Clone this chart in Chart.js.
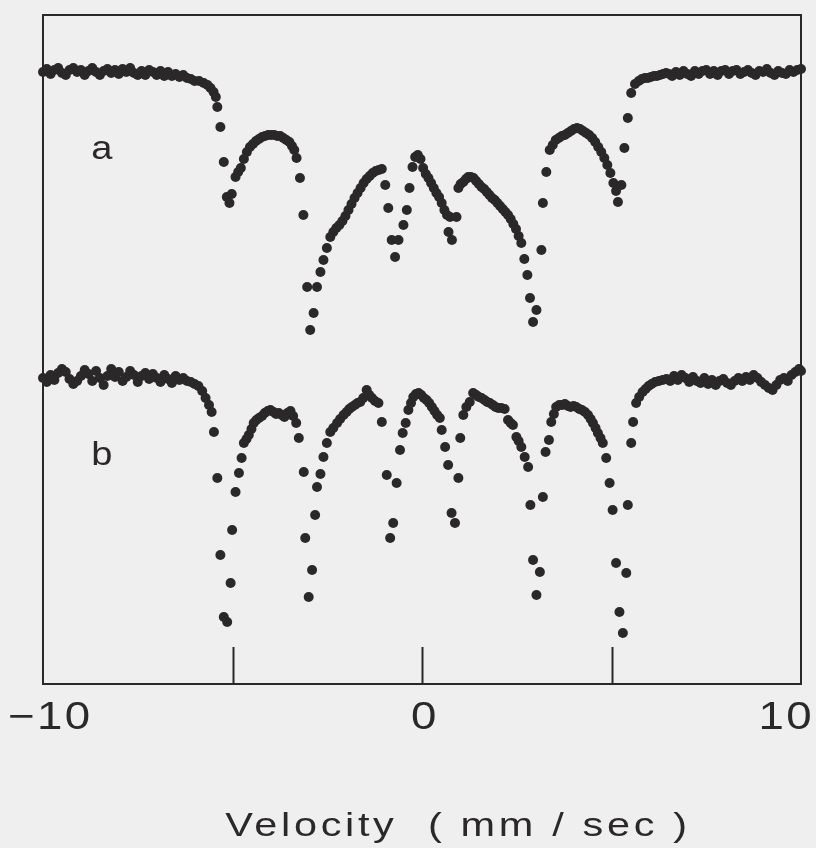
<!DOCTYPE html>
<html>
<head>
<meta charset="utf-8">
<script src="https://cdn.jsdelivr.net/npm/chart.js@4.4.1/dist/chart.umd.min.js"></script>
<style>
    html, body { margin: 0; padding: 0; background: #efefef; }
    #contenedor { width: 816px; height: 848px; position: relative; }
</style>
</head>
<body>
<div id="contenedor"><canvas id="grafico-mossbauer"></canvas></div>
<script>
// Spectrum a: [velocity mm/s, counts (arb.)]
const spectrumA = [
    [-10.0,61.2],[-9.9,61.5],[-9.8,61.0],[-9.7,61.4],[-9.6,61.6],[-9.5,61.1],[-9.4,60.9],[-9.3,61.4],[-9.2,61.6],[-9.1,61.2],
    [-9.0,61.4],[-8.9,60.9],[-8.8,61.3],[-8.7,61.6],[-8.6,61.2],[-8.5,60.9],[-8.4,61.3],[-8.3,61.5],[-8.2,61.1],[-8.1,61.4],
    [-8.0,61.0],[-7.9,61.5],[-7.8,61.2],[-7.7,61.6],[-7.6,61.1],[-7.5,60.9],[-7.4,61.3],[-7.3,60.9],[-7.2,61.4],[-7.1,61.2],
    [-7.0,60.9],[-6.9,61.3],[-6.8,60.8],[-6.7,61.2],[-6.6,60.8],[-6.5,61.0],[-6.4,60.7],[-6.3,60.9],[-6.2,60.6],[-6.1,60.5],
    [-6.0,60.3],[-5.88,60.3],[-5.76,60.1],[-5.66,59.9],[-5.58,59.6],[-5.5,59.2],[-5.44,58.7],[-5.4,57.7],[-5.32,55.7],[-5.23,52.2],
    [-5.15,48.7],[-5.08,48.1],[-5.02,49.0],
    [-4.92,50.7],[-4.85,51.2],[-4.78,51.6],[-4.70,52.5],[-4.62,53.2],[-4.54,53.7],[-4.46,54.0],[-4.38,54.3],[-4.30,54.5],[-4.22,54.7],
    [-4.14,54.8],[-4.06,54.9],[-3.98,54.9],[-3.90,54.9],[-3.82,54.8],[-3.74,54.8],[-3.66,54.6],[-3.58,54.4],[-3.50,54.2],[-3.43,53.8],
    [-3.37,53.4],[-3.31,52.6],[-3.22,50.6],[-3.13,46.9],
    [-3.03,39.7],[-2.95,35.4],[-2.86,37.1],[-2.77,39.7],[-2.68,41.2],[-2.60,42.4],[-2.51,43.6],
    [-2.42,44.7],[-2.34,45.2],[-2.26,45.6],[-2.18,45.9],[-2.10,46.3],[-2.02,46.8],[-1.94,47.4],[-1.86,48.0],[-1.78,48.6],[-1.70,49.1],
    [-1.62,49.6],[-1.54,50.1],[-1.46,50.5],[-1.38,50.8],[-1.30,51.1],[-1.22,51.3],[-1.14,51.4],[-1.06,51.5],
    [-0.97,49.9],[-0.89,47.6],[-0.80,44.4],[-0.71,42.7],[-0.62,44.4],[-0.49,45.9],[-0.40,47.4],[-0.33,49.6],[-0.25,51.7],
    [-0.18,52.7],[-0.11,52.9],[-0.04,52.5],[0.03,51.6],[0.10,51.0],[0.17,50.6],[0.24,50.1],[0.31,49.6],[0.38,49.1],[0.45,48.7],
    [0.52,48.1],[0.59,47.4],[0.66,46.9],
    [0.70,45.2],[0.74,46.7],[0.79,44.4],[0.91,46.7],[0.96,49.6],[1.02,50.0],
    [1.09,50.2],[1.16,50.5],[1.22,50.7],[1.29,50.7],[1.36,50.6],[1.43,50.3],[1.50,50.0],[1.57,49.7],[1.64,49.5],[1.71,49.2],
    [1.78,48.9],[1.85,48.6],[1.92,48.4],[1.99,48.1],[2.06,47.8],[2.13,47.5],[2.20,47.2],[2.27,46.9],[2.34,46.5],[2.41,46.0],
    [2.48,45.5],[2.55,44.8],[2.62,44.1],[2.70,42.5],[2.78,40.9],[2.85,38.6],
    [2.93,36.2],[3.02,37.4],[3.15,43.4],[3.19,48.1],[3.28,51.2],
    [3.37,53.4],[3.45,53.9],[3.53,54.4],[3.61,54.6],[3.69,54.8],[3.77,54.9],[3.85,55.1],[3.93,55.3],[4.01,55.5],[4.09,55.6],
    [4.17,55.5],[4.25,55.3],[4.33,55.1],[4.41,54.9],[4.49,54.6],[4.57,54.2],[4.65,53.7],[4.73,53.2],[4.81,52.6],[4.89,51.9],
    [4.97,51.1],[5.05,50.1],[5.12,49.3],[5.17,48.2],[5.26,49.9],
    [5.34,53.6],[5.43,56.6],[5.52,59.1],[5.62,60.0],
    [5.72,60.3],[5.80,60.5],[5.88,60.6],[5.96,60.6],[6.04,60.7],[6.12,60.8],[6.20,60.8],[6.28,60.9],[6.36,61.0],[6.44,61.1],[6.52,61.0],
    [6.6,60.8],[6.7,61.2],[6.8,60.9],[6.9,61.3],[7.0,61.0],[7.1,60.8],[7.2,61.3],[7.3,61.0],[7.4,61.3],[7.5,61.4],
    [7.6,61.0],[7.7,61.3],[7.8,60.9],[7.9,61.3],[8.0,61.4],[8.1,61.0],[8.2,61.3],[8.3,61.4],[8.4,61.0],[8.5,61.2],
    [8.6,61.4],[8.7,61.1],[8.8,60.9],[8.9,61.3],[9.0,61.2],[9.1,61.5],[9.2,61.1],[9.3,60.9],[9.4,61.3],[9.5,61.1],
    [9.6,61.0],[9.7,61.4],[9.8,61.2],[9.9,61.4],[10.0,61.5]
];

// Spectrum b
const spectrumB = [
    [-10.0,30.6],[-9.9,30.2],[-9.8,30.9],[-9.7,30.4],[-9.6,31.1],[-9.5,31.5],[-9.4,31.2],[-9.3,30.5],[-9.2,30.0],[-9.1,30.3],
    [-9.0,30.8],[-8.9,31.4],[-8.8,31.0],[-8.7,30.3],[-8.6,31.3],[-8.5,30.6],[-8.4,29.9],[-8.3,30.8],[-8.2,31.5],[-8.1,30.7],
    [-8.0,31.2],[-7.9,30.3],[-7.8,30.7],[-7.7,31.3],[-7.6,30.9],[-7.5,30.2],[-7.4,30.8],[-7.3,31.1],[-7.2,30.5],[-7.1,31.0],
    [-7.0,30.6],[-6.9,30.2],[-6.8,30.9],[-6.7,30.5],[-6.6,30.1],[-6.5,30.8],[-6.4,30.4],[-6.3,30.6],[-6.2,30.3],[-6.1,30.2],
    [-6.0,30.0],[-5.90,29.8],[-5.80,29.3],[-5.71,28.6],[-5.62,27.9],[-5.55,27.2],[-5.49,25.2],[-5.40,20.6],[-5.32,12.9],[-5.23,6.7],
    [-5.14,6.2],[-5.05,10.1],[-5.01,15.4],[-4.92,19.2],[-4.83,21.1],[-4.76,22.6],
    [-4.70,24.1],[-4.63,24.5],[-4.57,24.9],[-4.50,25.5],[-4.44,26.1],[-4.37,26.4],[-4.30,26.6],[-4.22,26.8],[-4.15,27.1],[-4.07,27.3],
    [-4.00,27.4],[-3.92,27.2],[-3.85,27.0],[-3.78,27.1],[-3.70,26.9],[-3.63,26.7],[-3.55,27.1],[-3.47,27.3],[-3.40,26.8],[-3.32,26.1],
    [-3.25,24.6],
    [-3.12,21.2],[-3.08,14.6],[-2.99,8.7],[-2.90,11.4],[-2.82,16.9],[-2.77,19.7],[-2.68,21.0],[-2.60,22.7],
    [-2.51,24.1],[-2.42,25.2],[-2.34,25.6],[-2.24,26.1],[-2.16,26.5],[-2.07,26.9],[-1.99,27.2],[-1.92,27.5],[-1.85,27.7],[-1.77,27.9],
    [-1.70,28.1],[-1.63,28.2],[-1.55,28.6],[-1.46,29.4],[-1.39,28.9],[-1.32,28.6],[-1.24,28.3],[-1.15,28.1],[-1.06,26.2],
    [-0.93,20.9],[-0.84,14.6],[-0.76,16.1],[-0.67,20.1],[-0.58,23.4],[-0.51,25.1],[-0.43,26.1],
    [-0.36,27.4],[-0.29,28.1],[-0.23,28.7],[-0.16,29.0],[-0.09,29.1],[-0.02,28.9],[0.05,28.6],[0.12,28.4],[0.19,28.1],[0.26,27.7],
    [0.33,27.3],[0.40,26.9],[0.47,26.6],[0.52,25.4],
    [0.61,23.7],[0.69,21.9],[0.78,17.1],[0.87,16.1],[0.96,20.6],[1.01,24.6],
    [1.09,26.9],[1.17,27.7],[1.26,28.2],[1.35,29.1],[1.43,28.9],[1.50,28.7],[1.57,28.6],[1.65,28.4],[1.72,28.2],[1.79,28.1],
    [1.87,27.9],[1.94,27.7],[2.01,27.6],[2.09,27.6],[2.18,27.5],[2.27,26.4],[2.34,26.1],[2.40,25.9],[2.49,24.7],[2.55,24.3],
    [2.62,23.7],[2.71,22.7],[2.80,21.7],
    [2.86,17.9],[2.93,12.4],[3.02,8.9],[3.11,11.2],[3.19,18.7],[3.26,23.2],[3.35,24.4],
    [3.41,26.2],[3.48,27.0],[3.54,27.7],[3.62,27.9],[3.70,27.9],[3.77,28.0],[3.85,27.8],[3.92,27.7],[4.00,27.8],[4.07,27.7],
    [4.15,27.5],[4.22,27.4],[4.30,27.2],[4.38,26.9],[4.45,26.5],[4.51,26.1],[4.58,25.6],[4.64,25.1],[4.71,24.6],[4.77,24.1],
    [4.86,22.6],
    [4.95,20.1],[5.03,17.4],[5.12,12.1],[5.21,7.2],[5.30,5.1],[5.39,11.1],[5.43,17.9],[5.52,24.1],[5.57,26.2],[5.65,28.1],
    [5.73,28.7],[5.82,29.2],[5.90,29.5],[5.98,29.8],[6.06,30.0],[6.15,30.2],[6.25,30.3],[6.35,30.4],[6.45,30.5],
    [6.55,30.3],[6.65,30.8],[6.75,30.4],[6.85,30.9],[6.95,30.6],[7.05,30.2],[7.15,30.7],[7.25,30.3],[7.35,30.1],[7.45,30.6],
    [7.55,30.0],[7.65,30.4],[7.75,29.9],[7.85,30.3],[7.95,30.5],[8.05,30.1],[8.15,29.9],[8.25,30.3],[8.35,30.6],[8.45,30.3],
    [8.55,30.7],[8.65,30.4],[8.75,30.9],[8.85,30.6],[8.95,30.2],[9.05,29.9],[9.15,29.6],[9.25,29.4],[9.35,29.9],[9.45,30.4],
    [9.55,30.6],[9.65,30.3],[9.75,30.9],[9.85,31.2],[9.95,31.5],[10.0,31.3]
];

// axis
const xMin = -10;
const xMax = 10;
const yMin = 0;
const yMax = 66.9;
const tickMarks = [-5, 0, 5];
const tickValues = [-10, 0, 10];
const tickLabels = ["\u221210", "0", "10"];
const axisTitle = "Velocity  ( mm / sec )";

// spectrum names and where they sit (velocity, counts)
const spectrumNames = ["a", "b"];
const namePositions = [[-8.45, 53.4], [-8.45, 22.8]];

const ink = "#2b2829";

// text drawn a little wider than the font, like the typewriter lettering of the original
function textoAncho(ctx, texto, cx, cy, stretch) {
    ctx.save();
    ctx.translate(cx, cy);
    ctx.scale(stretch, 1);
    ctx.textAlign = "center";
    ctx.textBaseline = "middle";
    ctx.fillText(texto, 0, 0);
    ctx.restore();
}

const decoracion = {
    id: "decoracion",
    beforeDatasetsDraw(chart) {
        const { ctx, chartArea: area, scales: { x } } = chart;
        ctx.save();
        ctx.strokeStyle = ink;
        ctx.lineWidth = 2;
        ctx.strokeRect(area.left, area.top, area.width, area.height);
        // short ticks standing on the bottom edge
        tickMarks.forEach(v => {
            const px = Math.round(x.getPixelForValue(v)) + 0.5;
            ctx.beginPath();
            ctx.moveTo(px, area.bottom);
            ctx.lineTo(px, area.bottom - 37);
            ctx.stroke();
        });
        ctx.restore();
    },
    afterDraw(chart) {
        const { ctx, chartArea: area, scales: { x, y }, width } = chart;
        ctx.save();
        ctx.fillStyle = ink;

        // tick labels
        ctx.font = "38px 'Liberation Sans', Arial, sans-serif";
        ctx.letterSpacing = "2px";
        tickValues.forEach((v, i) => {
            const w = ctx.measureText(tickLabels[i]).width * 1.2;
            let cx = x.getPixelForValue(v);
            cx = Math.min(Math.max(cx + 3, w / 2 + 8), width - w / 2 - 2);
            textoAncho(ctx, tickLabels[i], cx, area.bottom + 35, 1.2);
        });

        // axis title
        ctx.font = "34px 'Liberation Sans', Arial, sans-serif";
        ctx.letterSpacing = "3px";
        textoAncho(ctx, axisTitle, (area.left + area.right) / 2 + 36, area.bottom + 143, 1.22);

        // spectrum names
        ctx.font = "34px 'Liberation Sans', Arial, sans-serif";
        ctx.letterSpacing = "0px";
        spectrumNames.forEach((n, i) => {
            const p = namePositions[i];
            textoAncho(ctx, n, x.getPixelForValue(p[0]), y.getPixelForValue(p[1]), 1.12);
        });
        ctx.restore();
    }
};

document.addEventListener("DOMContentLoaded", function () {
    const ctx = document.getElementById("grafico-mossbauer").getContext("2d");

    const toPoints = arr => arr.map(p => ({ x: p[0], y: p[1] }));

    new Chart(ctx, {
        type: "scatter",
        data: {
            datasets: [
                { label: spectrumNames[0], data: toPoints(spectrumA) },
                { label: spectrumNames[1], data: toPoints(spectrumB) }
            ]
        },
        options: {
            responsive: true,
            maintainAspectRatio: false,
            animation: false,
            clip: false,
            layout: { padding: { left: 43, right: 15, top: 15, bottom: 164 } },
            elements: {
                point: {
                    radius: 5,
                    backgroundColor: ink,
                    borderWidth: 0,
                    hoverRadius: 5
                }
            },
            plugins: {
                legend: { display: false },
                tooltip: { enabled: false }
            },
            scales: {
                x: { type: "linear", min: xMin, max: xMax, display: false },
                y: { type: "linear", min: yMin, max: yMax, display: false }
            }
        },
        plugins: [decoracion]
    });
});
</script>
</body>
</html>
